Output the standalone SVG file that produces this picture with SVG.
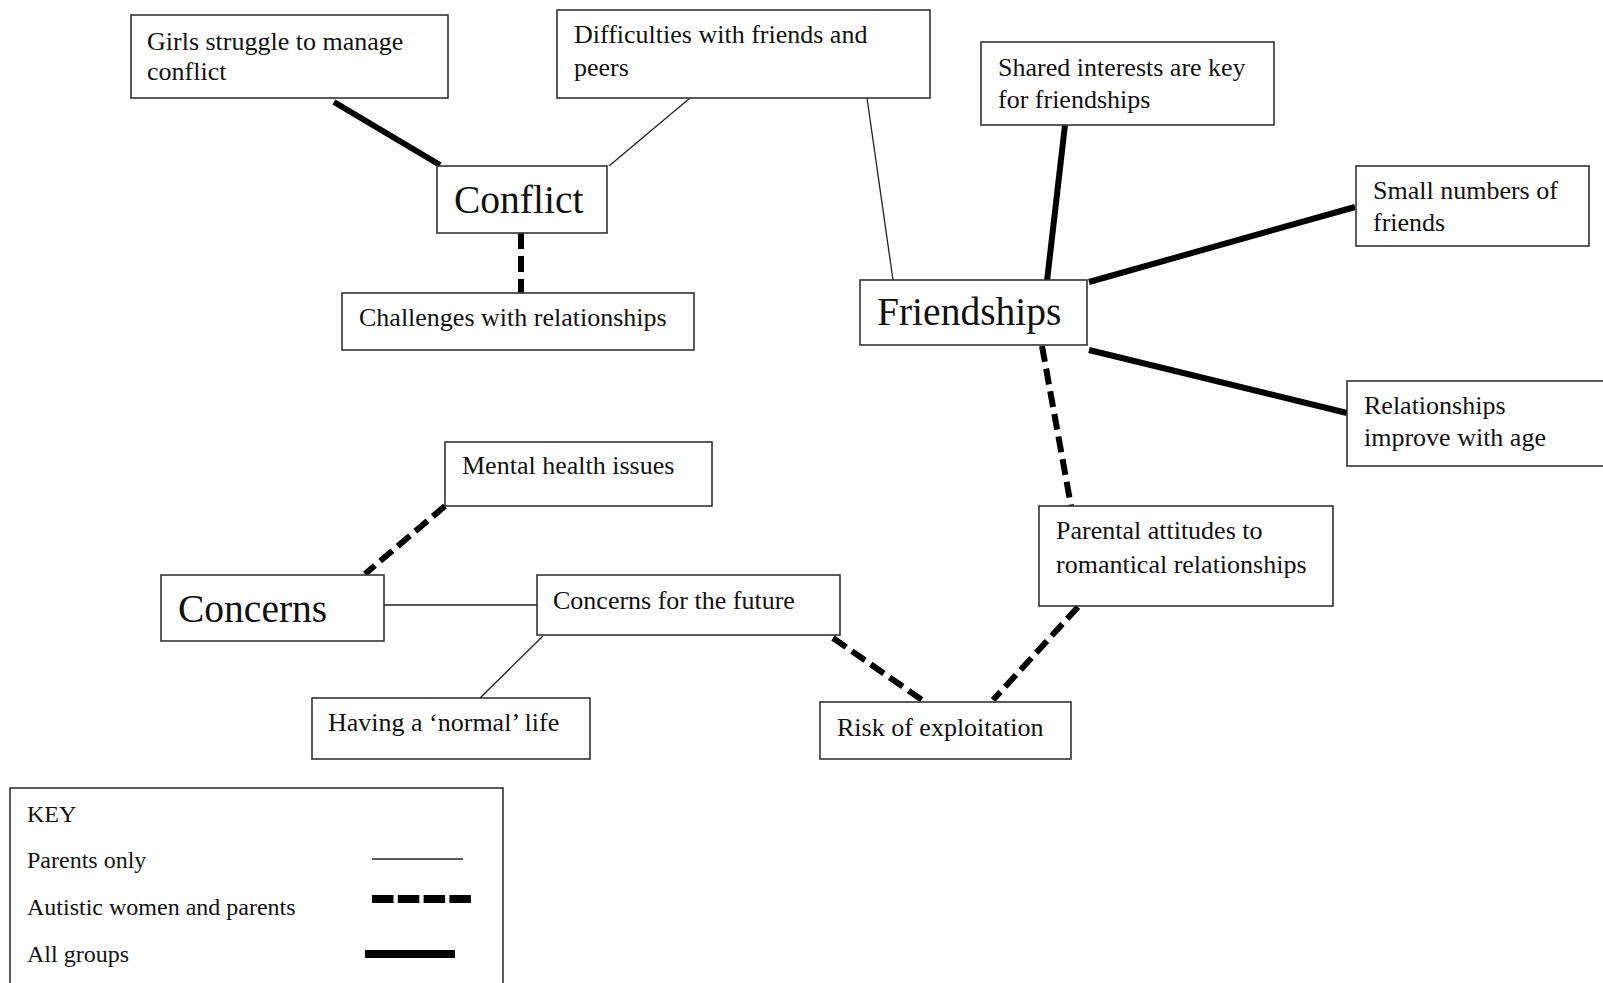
<svg xmlns="http://www.w3.org/2000/svg" width="1603" height="983" viewBox="0 0 1603 983">
<style>
.box{fill:#fff;stroke:#333;stroke-width:1.6}
.t{font-family:"Liberation Serif","Times New Roman",serif;font-size:26px;fill:#111}
.big{font-family:"Liberation Serif","Times New Roman",serif;font-size:39.5px;fill:#111}
.k{font-family:"Liberation Serif","Times New Roman",serif;font-size:24px;fill:#111}
.thin{stroke:#222;stroke-width:1.3;fill:none}
.all{stroke:#000;stroke-width:6;fill:none}
.aw{stroke:#000;stroke-width:6;fill:none;stroke-dasharray:16 7}
</style>
<rect width="1603" height="983" fill="#fff"/>
<g id="connectors">
<line class="all" x1="334" y1="102" x2="440" y2="165"/>
<line class="thin" x1="690" y1="98" x2="609" y2="166"/>
<line class="thin" x1="867" y1="98" x2="893" y2="280"/>
<line class="aw" x1="521" y1="233" x2="521" y2="293"/>
<line class="all" x1="1065" y1="125" x2="1047" y2="281"/>
<line class="all" x1="1355" y1="207" x2="1089" y2="282"/>
<line class="all" x1="1089" y1="350" x2="1347" y2="413"/>
<line class="aw" x1="1042" y1="346" x2="1071" y2="506"/>
<line class="aw" x1="445" y1="506" x2="365" y2="574"/>
<line class="thin" x1="384" y1="605" x2="537" y2="605"/>
<line class="thin" x1="543" y1="636" x2="480" y2="698"/>
<line class="aw" x1="833" y1="638" x2="922" y2="700"/>
<line class="aw" x1="1078" y1="607" x2="993" y2="700"/>
</g>
<g id="n-girls"><rect class="box" x="131" y="15" width="317" height="83"/><text class="t" x="147" y="50">Girls struggle to manage</text><text class="t" x="147" y="80">conflict</text></g>
<g id="n-difficulties"><rect class="box" x="557" y="10" width="373" height="88"/><text class="t" x="574" y="43">Difficulties with friends and</text><text class="t" x="574" y="76">peers</text></g>
<g id="n-conflict"><rect class="box" x="437" y="166" width="170" height="67"/><text class="big" x="454" y="213">Conflict</text></g>
<g id="n-challenges"><rect class="box" x="342" y="293" width="352" height="57"/><text class="t" x="359" y="326">Challenges with relationships</text></g>
<g id="n-shared"><rect class="box" x="981" y="42" width="293" height="83"/><text class="t" x="998" y="76">Shared interests are key</text><text class="t" x="998" y="108">for friendships</text></g>
<g id="n-small"><rect class="box" x="1356" y="166" width="233" height="80"/><text class="t" x="1373" y="199">Small numbers of</text><text class="t" x="1373" y="231">friends</text></g>
<g id="n-friendships"><rect class="box" x="860" y="280" width="227" height="65"/><text class="big" x="877" y="325">Friendships</text></g>
<g id="n-improve"><rect class="box" x="1347" y="381" width="262" height="85"/><text class="t" x="1364" y="414">Relationships</text><text class="t" x="1364" y="446">improve with age</text></g>
<g id="n-mental"><rect class="box" x="445" y="442" width="267" height="64"/><text class="t" x="462" y="474">Mental health issues</text></g>
<g id="n-parental"><rect class="box" x="1039" y="506" width="294" height="100"/><text class="t" x="1056" y="539">Parental attitudes to</text><text class="t" x="1056" y="573">romantical relationships</text></g>
<g id="n-concerns"><rect class="box" x="161" y="575" width="223" height="66"/><text class="big" x="178" y="622">Concerns</text></g>
<g id="n-future"><rect class="box" x="537" y="575" width="303" height="60"/><text class="t" x="553" y="609">Concerns for the future</text></g>
<g id="n-normal"><rect class="box" x="312" y="698" width="278" height="61"/><text class="t" x="328" y="731">Having a ‘normal’ life</text></g>
<g id="n-risk"><rect class="box" x="820" y="702" width="251" height="57"/><text class="t" x="837" y="736">Risk of exploitation</text></g>
<g id="key">
<rect class="box" x="10" y="788" width="493" height="210"/>
<text class="k" x="27" y="822">KEY</text>
<text class="k" x="27" y="868">Parents only</text>
<text class="k" x="27" y="915">Autistic women and parents</text>
<text class="k" x="27" y="962">All groups</text>
<line class="thin" x1="372" y1="859" x2="463" y2="859"/>
<line stroke="#000" stroke-width="8" stroke-dasharray="21.5 4.3" x1="372" y1="899" x2="472" y2="899"/>
<line stroke="#000" stroke-width="8" x1="365" y1="954" x2="455" y2="954"/>
</g>
</svg>
